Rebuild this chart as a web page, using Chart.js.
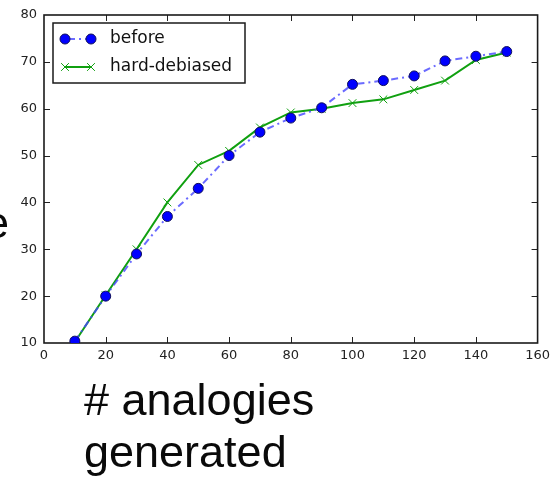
<!DOCTYPE html>
<html>
<head>
<meta charset="utf-8">
<script src="https://cdn.jsdelivr.net/npm/chart.js@4.4.1/dist/chart.umd.min.js"></script>
<style>
    html, body { margin: 0; padding: 0; background: #fff; }
    #chart { display: block; }
</style>
</head>
<body>
<canvas id="chart" width="555" height="485"></canvas>
<script>
const analogyCounts = [10, 20, 30, 40, 50, 60, 70, 80, 90, 100, 110, 120, 130, 140, 150];
const beforeValues = [10.4, 20, 29, 37, 43, 50, 55, 58, 60.2, 65.2, 66, 67, 70.2, 71.2, 72.2];
const debiasedValues = [10.2, 20.2, 30, 40, 48, 51, 56, 59.2, 60, 61.2, 62, 64, 66, 70.4, 72];
const xTicks = [0, 20, 40, 60, 80, 100, 120, 140, 160];
const yTicks = [10, 20, 30, 40, 50, 60, 70, 80];
const seriesNames = ["before", "hard-debiased"];
const xLabelLines = ["# analogies", "generated"];
const cutLetter = "e";

const blue = "#0000ff";
const green = "#10a010";

function toPoints(values) {
    return analogyCounts.map((x, i) => ({x: x, y: values[i]}));
}

// matplotlib style frame with inward ticks on all four sides
const framePlugin = {
    id: "frame",
    beforeDatasetsDraw(chart) {
        const {ctx, chartArea: a} = chart;
        const xs = chart.scales.x, ys = chart.scales.y;
        ctx.save();
        ctx.strokeStyle = "#222";
        ctx.lineWidth = 1;
        xTicks.slice(1, -1).forEach((t) => {
            const px = Math.round(xs.getPixelForValue(t)) + 0.5;
            ctx.beginPath();
            ctx.moveTo(px, a.bottom); ctx.lineTo(px, a.bottom - 6);
            ctx.moveTo(px, a.top); ctx.lineTo(px, a.top + 6);
            ctx.stroke();
        });
        yTicks.slice(1, -1).forEach((t) => {
            const py = Math.round(ys.getPixelForValue(t)) + 0.5;
            ctx.beginPath();
            ctx.moveTo(a.left, py); ctx.lineTo(a.left + 6, py);
            ctx.moveTo(a.right, py); ctx.lineTo(a.right - 6, py);
            ctx.stroke();
        });
        ctx.lineWidth = 1.6;
        ctx.strokeStyle = "#1a1a1a";
        ctx.strokeRect(a.left, a.top, a.right - a.left, a.bottom - a.top);
        ctx.restore();
    }
};

const legendPlugin = {
    id: "boxLegend",
    afterDraw(chart) {
        const ctx = chart.ctx;
        const sets = chart.data.datasets;
        ctx.save();
        ctx.fillStyle = "#fff";
        ctx.fillRect(53, 23, 192, 60);
        ctx.lineWidth = 1.5;
        ctx.strokeStyle = "#1a1a1a";
        ctx.strokeRect(53, 23, 192, 60);
        const rows = [39, 67];
        sets.forEach((ds, i) => {
            const y = rows[i];
            ctx.beginPath();
            ctx.setLineDash(ds.borderDash || []);
            ctx.lineDashOffset = -3;
            ctx.strokeStyle = ds.borderColor;
            ctx.lineWidth = ds.borderWidth;
            ctx.moveTo(65, y); ctx.lineTo(91, y);
            ctx.stroke();
            ctx.setLineDash([]);
            [65, 91].forEach((px) => {
                ctx.fillStyle = ds.pointBackgroundColor;
                ctx.strokeStyle = ds.pointBorderColor;
                ctx.lineWidth = ds.pointBorderWidth;
                Chart.helpers.drawPoint(ctx, {
                    pointStyle: ds.pointStyle, radius: ds.pointRadius,
                    rotation: 0, borderWidth: ds.pointBorderWidth
                }, px, y);
            });
            ctx.fillStyle = "#111";
            ctx.font = "17px 'DejaVu Sans'";
            ctx.textBaseline = "middle";
            ctx.fillText(ds.label, 110, y);
        });
        ctx.restore();
    }
};

const bigTextPlugin = {
    id: "bigText",
    afterDraw(chart) {
        const ctx = chart.ctx;
        ctx.save();
        ctx.fillStyle = "#0a0a0a";
        ctx.font = "45px 'Liberation Sans'";
        ctx.textBaseline = "alphabetic";
        ctx.fillText(xLabelLines[0], 84, 415);
        ctx.fillText(xLabelLines[1], 84, 467);
        ctx.fillText(cutLetter, -16, 238);
        ctx.restore();
    }
};

new Chart(document.getElementById("chart").getContext("2d"), {
    type: "line",
    data: {
        datasets: [
            {
                label: seriesNames[0],
                data: toPoints(beforeValues),
                borderColor: "rgba(70,70,255,0.8)",
                borderWidth: 2,
                borderDash: [7, 4, 2, 4],
                pointStyle: "circle",
                pointRadius: 5,
                pointBackgroundColor: blue,
                pointBorderColor: "#10105a",
                pointBorderWidth: 1,
                tension: 0
            },
            {
                label: seriesNames[1],
                data: toPoints(debiasedValues),
                borderColor: green,
                borderWidth: 2,
                pointStyle: "crossRot",
                pointRadius: 5.5,
                pointBackgroundColor: green,
                pointBorderColor: green,
                pointBorderWidth: 1,
                tension: 0
            }
        ]
    },
    options: {
        responsive: false,
        devicePixelRatio: 1,
        animation: false,
        layout: {padding: {top: 15, right: 17, left: 0, bottom: 0}},
        plugins: {
            legend: {display: false},
            tooltip: {enabled: false}
        },
        scales: {
            x: {
                type: "linear",
                min: 0,
                max: 160,
                afterBuildTicks: (s) => { s.ticks = xTicks.map((v) => ({value: v})); },
                afterFit: (s) => { s.height = 142; },
                grid: {display: false, drawTicks: false},
                border: {display: false},
                ticks: {
                    padding: 5,
                    color: "#222",
                    font: {family: "DejaVu Sans", size: 13}
                }
            },
            y: {
                min: 10,
                max: 80,
                afterBuildTicks: (s) => { s.ticks = yTicks.map((v) => ({value: v})); },
                afterFit: (s) => { s.width = 44; },
                grid: {display: false, drawTicks: false},
                border: {display: false},
                ticks: {
                    padding: 7,
                    color: "#222",
                    font: {family: "DejaVu Sans", size: 13}
                }
            }
        }
    },
    plugins: [framePlugin, legendPlugin, bigTextPlugin]
});
</script>
</body>
</html>
